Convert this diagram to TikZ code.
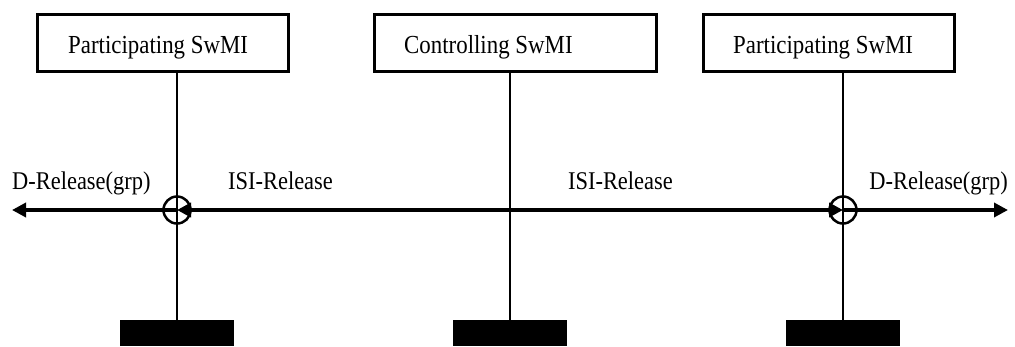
\documentclass[tikz,border=0pt]{standalone}
\usepackage{fontspec}
\setmainfont{Liberation Serif}
\usetikzlibrary{arrows.meta}
\newcommand{\cond}[1]{\scalebox{0.88}[1]{#1}}
\begin{document}
\begin{tikzpicture}[x=1pt,y=-1pt,
  swbox/.style={draw, line width=3pt, minimum height=57pt, inner sep=0pt},
  boxtext/.style={font=\fontsize{26}{30}\selectfont, inner sep=0pt},
  lbl/.style={font=\fontsize{25.5}{30}\selectfont, inner sep=0pt},
  life/.style={line width=2.5pt},
  msg/.style={line width=3.5pt},
  tipa/.style={-{Triangle[length=14pt,width=14pt]}},
  circ/.style={circle, draw, line width=2.5pt, minimum size=27pt, inner sep=0pt},
  blk/.style={fill=black, minimum width=114pt, minimum height=26pt, inner sep=0pt}
]
\useasboundingbox (0,0) rectangle (1015,346);
% boxes
\node[swbox, minimum width=251pt] (p1) at (162.5,42.5) {};
\node[swbox, minimum width=282pt] (ct) at (515,42.5) {};
\node[swbox, minimum width=251pt] (p2) at (828.5,42.5) {};
\node[boxtext, anchor=base west] (t1) at (68,53) {\cond{Participating SwMI}};
\node[boxtext, anchor=base west] (t2) at (404,53) {\cond{Controlling SwMI}};
\node[boxtext, anchor=base west] (t3) at (733,53) {\cond{Participating SwMI}};
% black end boxes
\node[blk] (e1) at (177,333) {};
\node[blk] (e2) at (510,333) {};
\node[blk] (e3) at (843,333) {};
% circles and points
\node[circ] (c1) at (177,210) {};
\node[circ] (c3) at (843,210) {};
\coordinate (m2) at (510,210);
\coordinate (lend) at (12,210);
\coordinate (rend) at (1008,210);
% lifelines
\draw[life] (p1.south -| e1.north) -- (e1.north);
\draw[life] (ct.south -| e2.north) -- (e2.north);
\draw[life] (p2.south -| e3.north) -- (e3.north);
% messages
\draw[msg, tipa] (c1.center) -- (lend);
\draw[msg, tipa] (m2) -- (c1.center);
\draw[msg, tipa] (m2) -- (c3.center);
\draw[msg, tipa] (c3.center) -- (rend);
% labels
\node[lbl, anchor=base west] (d1) at (12,189) {\cond{D-Release(grp)}};
\node[lbl, anchor=base west] (i1) at (228,189) {\cond{ISI-Release}};
\node[lbl, anchor=base east] (i2) at (673,189) {\cond{ISI-Release}};
\node[lbl, anchor=base east] (d2) at (1008,189) {\cond{D-Release(grp)}};
\end{tikzpicture}
\end{document}
